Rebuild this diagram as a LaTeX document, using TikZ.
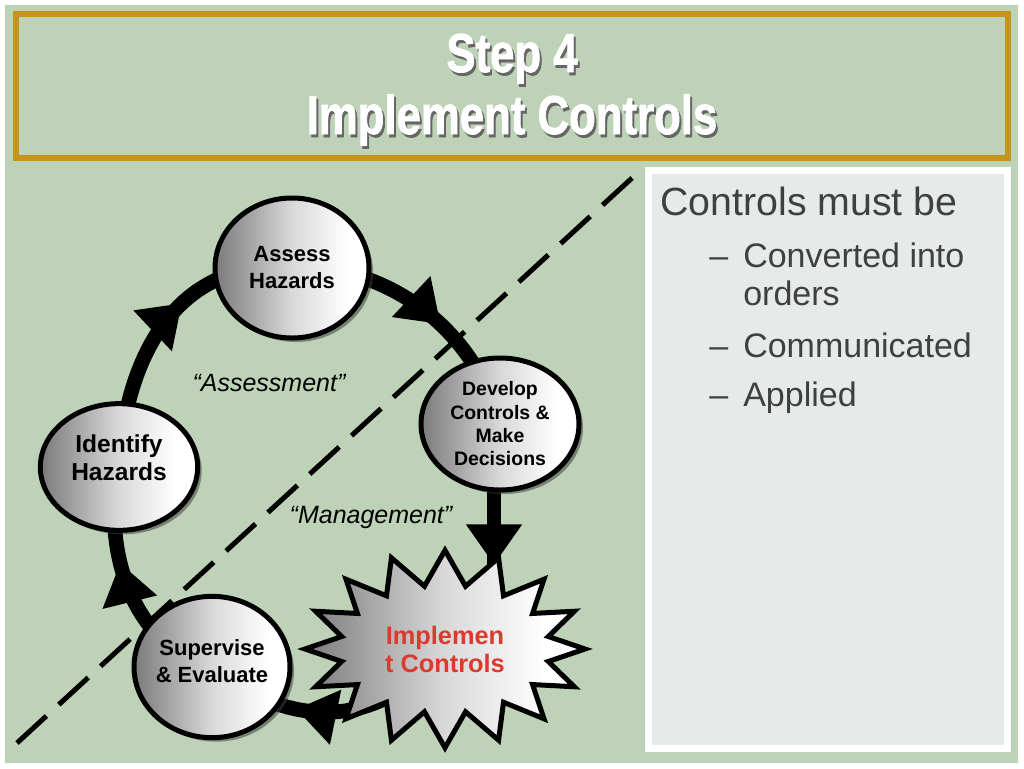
\documentclass[tikz,border=0pt]{standalone}
\usepackage{fontspec}
\setmainfont{Liberation Sans}
\newfontfamily\titlefont[FakeBold=1.6]{Liberation Sans Bold}
\usetikzlibrary{arrows.meta,decorations.markings,shadows,shapes.geometric,shapes.symbols,calc}
\definecolor{bggreen}{RGB}{189,210,182}
\definecolor{gold}{RGB}{196,148,28}
\definecolor{panelgray}{RGB}{230,234,233}
\definecolor{txtgray}{RGB}{64,64,64}
\definecolor{implred}{RGB}{220,58,46}
\pgfdeclarehorizontalshading{ballshade}{100bp}{color(0bp)=(black!52); color(25bp)=(black!52); color(50bp)=(black!15); color(68bp)=(white); color(100bp)=(white)}
\pgfdeclarelayer{back}
\pgfdeclarelayer{mid}
\pgfsetlayers{back,mid,main}
\begin{document}
\begin{tikzpicture}[x=0.75pt,y=-0.75pt,
  ball/.style={ellipse, draw=black, line width=3.75pt, shading=ballshade,
    drop shadow={shadow xshift=3pt, shadow yshift=-3pt, fill=black!75, opacity=0.55},
    align=center, inner sep=0pt, text=black, font=\bfseries\fontsize{16.5}{20.25}\selectfont},
  balltext/.style={align=center, inner sep=0pt, text=black},
  flow/.style={draw=black, line width=11pt},
  head at/.style={postaction={decorate, decoration={markings,
    mark=at position #1 with {\arrow{Triangle[width=42pt,length=30pt,line width=1pt]}}}}},
  panel text/.style={anchor=base west, text=txtgray, inner sep=0pt},
  sub text/.style={panel text, font=\fontsize{25.5}{30}\selectfont},
  quote/.style={font=\itshape\fontsize{18.75}{22}\selectfont, inner sep=0pt},
  titletext/.style={anchor=base, inner sep=0pt, font=\titlefont\fontsize{41}{46}\selectfont}
]
\useasboundingbox (0,0) rectangle (1024,768);
\begin{pgfonlayer}{back}
  \fill[white] (0,0) rectangle (1024,768);
  \fill[bggreen] (5,5) rectangle (1018,763);
  \draw[gold, line width=4.5pt, fill=bggreen] (16,14) rectangle (1008,158);
  \fill[white] (645,167) rectangle (1011,752);
  \fill[panelgray] (652,174) rectangle (1004,745);
\end{pgfonlayer}

% title
\node[titletext, text=black!60] (tshadow1) at (514,75) {\scalebox{0.8}[1]{Step 4}};
\node[titletext, text=white] (title1) at (512,72) {\scalebox{0.8}[1]{Step 4}};
\node[titletext, text=black!60] (tshadow2) at (514,137) {\scalebox{0.8}[1]{Implement Controls}};
\node[titletext, text=white] (title2) at (512,134) {\scalebox{0.8}[1]{Implement Controls}};

% right panel text
\node[panel text, font=\fontsize{29.5}{34}\selectfont] (p0) at (660,215) {Controls must be};
\node[sub text] (d1) at (709,267) {–};
\node[sub text] (p1) at (743,267) {Converted into};
\node[sub text] (p1b) at (743,305) {orders};
\node[sub text] (d2) at (709,357) {–};
\node[sub text] (p2) at (743,357) {Communicated};
\node[sub text] (d3) at (709,406) {–};
\node[sub text] (p3) at (743,406) {Applied};

% quotes
\node[quote] (qa) at (269,383) {“Assessment”};
\node[quote] (qm) at (371,517) {“Management”};

% cycle nodes
\node[ball, minimum width=115.5pt, minimum height=105pt] (assess) at (292,268) {Assess\\Hazards};
\node[ball, minimum width=118pt, minimum height=95pt] (identify) at (119,467) {};
\node[balltext, font=\bfseries\fontsize{18.4}{21}\selectfont] (identifytext) at (119,458) {Identify\\Hazards};
\node[ball, minimum width=118.5pt, minimum height=99pt, font=\bfseries\fontsize{14.6}{17.5}\selectfont] (develop) at (500,424) {Develop\\Controls \&\\Make\\Decisions};
\node[ball, minimum width=117pt, minimum height=106pt] (supervise) at (212,667) {};
\node[balltext, font=\bfseries\fontsize{16.5}{20.25}\selectfont] (supervisetext) at (212,661) {Supervise\\\& Evaluate};
\node[starburst, draw=black, line width=3.75pt, shading=ballshade, starburst points=16,
  starburst point height=26pt, random starburst=0, minimum width=210pt, minimum height=148pt,
  align=center, inner sep=0pt, text=implred, font=\bfseries\fontsize{19}{21}\selectfont] (impl) at (445,649) {Implemen\\t Controls};

\begin{pgfonlayer}{mid}
  \draw[flow, head at=0.6] (identify.center) .. controls (125,360) and (175,258) .. (assess.center);
  \draw[flow, head at=0.58] (assess.center) .. controls (370,262) and (470,315) .. (develop.center);
  \draw[flow, head at=0.46] (develop.265) -- (develop.265 |- impl.center);
  \draw[flow, head at=0.64] (impl.center) .. controls (380,730) and (290,730) .. (supervise.center);
  \draw[flow, head at=0.6] (supervise.center) .. controls (140,650) and (100,560) .. (identify.center);
  \coordinate (dashA) at (632,178);
  \coordinate (dashB) at (17,743);
  \draw[line width=3.75pt, dash pattern=on 30pt off 12.6pt] (dashA) -- (dashB);
\end{pgfonlayer}
\end{tikzpicture}
\end{document}
